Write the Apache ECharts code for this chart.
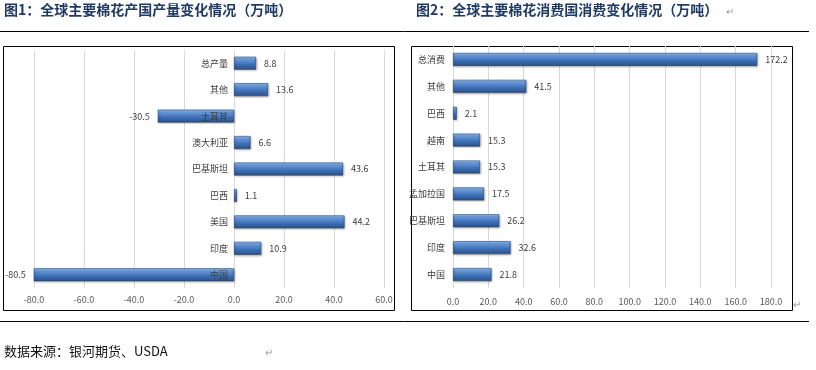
<!DOCTYPE html>
<html>
<head>
<meta charset="utf-8">
<script src="https://cdn.jsdelivr.net/npm/echarts@6/dist/echarts.min.js"></script>
<style>
html,body{margin:0;padding:0;background:#fff;}
#c{width:816px;height:370px;}
</style>
</head>
<body>
<div id="c"></div>
<script>
// Chart 1: production change (top to bottom order)
const prodCategories = ['总产量','其他','土耳其','澳大利亚','巴基斯坦','巴西','美国','印度','中国'];
const prodValues = [8.8, 13.6, -30.5, 6.6, 43.6, 1.1, 44.2, 10.9, -80.5];
const prodTicks = [-80, -60, -40, -20, 0, 20, 40, 60];

// Chart 2: consumption change (top to bottom order)
const consCategories = ['总消费','其他','巴西','越南','土耳其','孟加拉国','巴基斯坦','印度','中国'];
const consValues = [172.2, 41.5, 2.1, 15.3, 15.3, 17.5, 26.2, 32.6, 21.8];
const consTicks = [0, 20, 40, 60, 80, 100, 120, 140, 160, 180];

const title1 = '图1：全球主要棉花产国产量变化情况（万吨）';
const title2 = '图2：全球主要棉花消费国消费变化情况（万吨）';
const sourceText = '数据来源：银河期货、USDA';

const FONT = '"Noto Sans CJK SC", "Noto Sans", sans-serif';

function barColor() {
  return new echarts.graphic.LinearGradient(0, 0, 0, 1, [
    {offset: 0, color: '#b4cdee'},
    {offset: 0.18, color: '#6a9ad8'},
    {offset: 0.6, color: '#3d6fb6'},
    {offset: 1, color: '#27528e'}
  ]);
}

function makeData(vals) {
  // reverse because category axis draws first item at bottom
  return vals.slice().reverse().map(v => ({
    value: v,
    label: {position: v < 0 ? 'left' : 'right'}
  }));
}

const chart = echarts.init(document.getElementById('c'), null, {renderer: 'canvas'});

const barItemStyle = {color: barColor(), borderColor: '#1f406f', borderWidth: 0.6,
  shadowColor: 'rgba(0,0,0,0.25)', shadowBlur: 2, shadowOffsetX: 1, shadowOffsetY: 1};

const option = {
  animation: false,
  textStyle: {fontFamily: FONT},
  grid: [
    {left: 34, width: 350, top: 50, height: 238, outerBoundsMode: 'none', containLabel: false},
    {left: 453, width: 318, top: 46, height: 242, outerBoundsMode: 'none', containLabel: false}
  ],
  xAxis: [
    {
      gridIndex: 0, type: 'value', min: prodTicks[0], max: prodTicks[prodTicks.length - 1], interval: 20,
      axisLine: {show: false}, axisTick: {show: false},
      axisLabel: {color: '#595959', fontSize: 9, margin: 7, formatter: v => v.toFixed(1)},
      splitLine: {show: true, lineStyle: {color: '#d9d9d9', width: 1}}
    },
    {
      gridIndex: 1, type: 'value', min: consTicks[0], max: consTicks[consTicks.length - 1], interval: 20,
      axisLine: {show: false}, axisTick: {show: false},
      axisLabel: {color: '#595959', fontSize: 9, margin: 9, formatter: v => v.toFixed(1)},
      splitLine: {show: true, lineStyle: {color: '#d9d9d9', width: 1}}
    }
  ],
  yAxis: [
    {
      gridIndex: 0, type: 'category', data: prodCategories.slice().reverse(),
      axisLine: {show: false}, axisTick: {show: false},
      axisLabel: {show: false}
    },
    {
      gridIndex: 1, type: 'category', data: consCategories.slice().reverse(), z: 10,
      axisLine: {show: false}, axisTick: {show: false},
      axisLabel: {color: '#404040', fontSize: 9, margin: 8}
    }
  ],
  series: [
    {
      type: 'bar', xAxisIndex: 0, yAxisIndex: 0, barWidth: 13, z: 2,
      data: makeData(prodValues),
      itemStyle: barItemStyle,
      label: {show: true, color: '#404040', fontSize: 9, distance: 8, formatter: p => p.value.toFixed(1)}
    },
    {
      // category names drawn at the zero line of chart 1
      type: 'bar', xAxisIndex: 0, yAxisIndex: 0, barWidth: 13, barGap: '-100%', z: 5, silent: true,
      data: prodCategories.map(() => 0),
      itemStyle: {color: 'rgba(0,0,0,0)', borderWidth: 0},
      label: {show: true, position: 'left', distance: 6, color: '#404040', fontSize: 9, formatter: p => p.name}
    },
    {
      type: 'bar', xAxisIndex: 1, yAxisIndex: 1, barWidth: 13,
      data: makeData(consValues),
      itemStyle: barItemStyle,
      label: {show: true, color: '#404040', fontSize: 9, distance: 8, formatter: p => p.value.toFixed(1)}
    }
  ],
  graphic: [
    {type: 'text', left: 4, top: 3, style: {text: title1, font: 'bold 14px ' + FONT, fill: '#1f3a64'}},
    {type: 'text', left: 416, top: 3, style: {text: title2, font: 'bold 14px ' + FONT, fill: '#1f3a64'}},
    {type: 'text', left: 726, top: 6, style: {text: '↵', font: '10px ' + FONT, fill: '#999'}},
    {type: 'line', shape: {x1: 0, y1: 31.5, x2: 809, y2: 31.5}, style: {stroke: '#000', lineWidth: 1}},
    {type: 'rect', shape: {x: 3.5, y: 46.5, width: 391, height: 264}, style: {fill: 'none', stroke: '#000', lineWidth: 1}, z: -1},
    {type: 'rect', shape: {x: 411.5, y: 46.5, width: 381, height: 264}, style: {fill: 'none', stroke: '#000', lineWidth: 1}, z: -1},
    {type: 'text', left: 793, top: 299, style: {text: '↵', font: '10px ' + FONT, fill: '#999'}},
    {type: 'line', shape: {x1: 0, y1: 321.5, x2: 809, y2: 321.5}, style: {stroke: '#000', lineWidth: 1}},
    {type: 'text', left: 4, top: 345, style: {text: sourceText, font: '13px ' + FONT, fill: '#111'}},
    {type: 'text', left: 265, top: 347, style: {text: '↵', font: '10px ' + FONT, fill: '#999'}}
  ]
};
chart.setOption(option);
</script>
</body>
</html>
